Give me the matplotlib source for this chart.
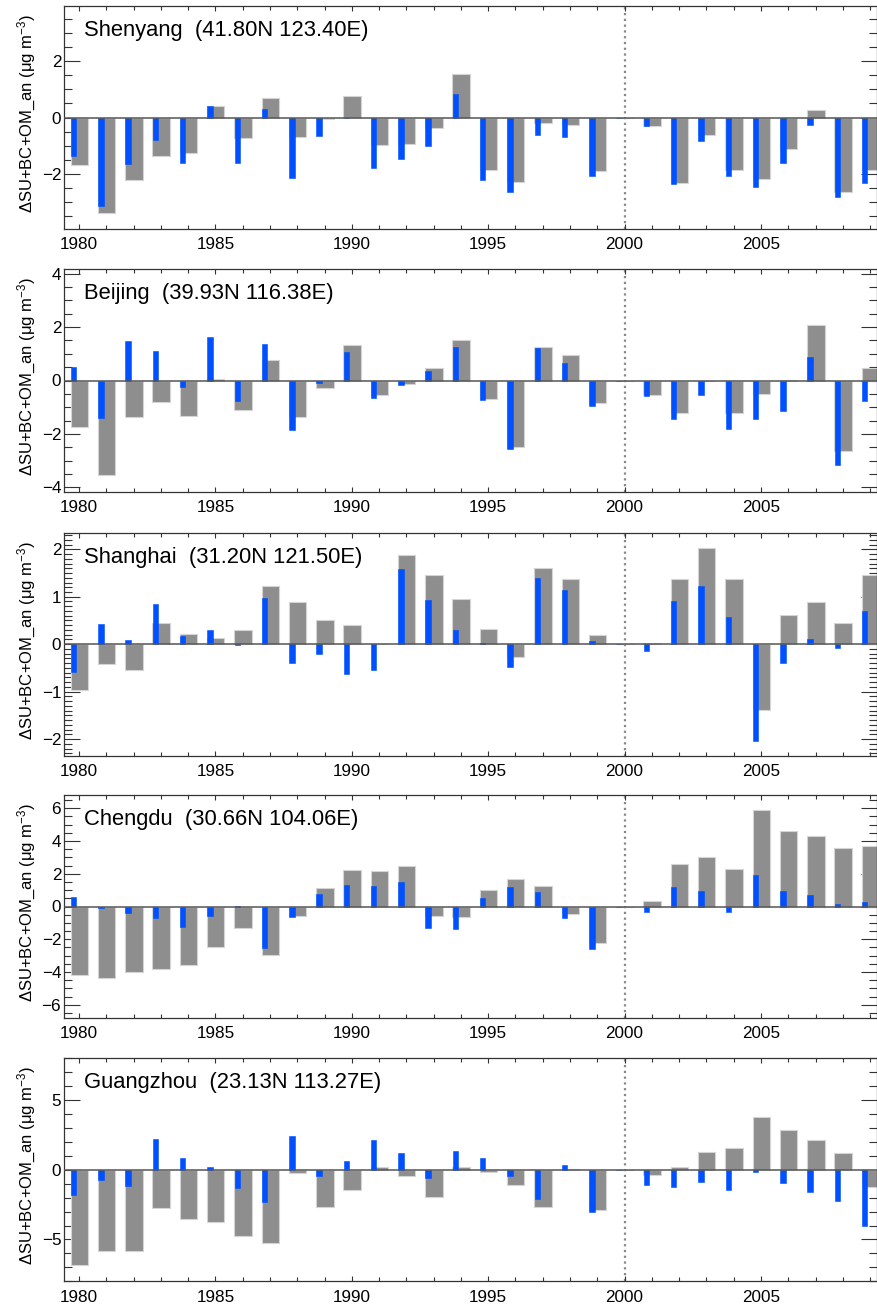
import matplotlib
matplotlib.use("Agg")
import matplotlib.pyplot as plt
import numpy as np
from matplotlib.ticker import MultipleLocator, FixedLocator

plt.rcParams['font.family'] = ['Liberation Sans', 'DejaVu Sans']
plt.rcParams['mathtext.fontset'] = 'custom'
plt.rcParams['mathtext.rm'] = 'Liberation Sans'
plt.rcParams['mathtext.default'] = 'regular'

years = list(range(1980, 2010))

sites = ['Shenyang', 'Beijing', 'Shanghai', 'Chengdu', 'Guangzhou']
coords = ['(41.80N 123.40E)', '(39.93N 116.38E)', '(31.20N 121.50E)',
          '(30.66N 104.06E)', '(23.13N 113.27E)']

# gray (wide) bars
shenyang_gray = [-1.68, -3.40, -2.21, -1.35, -1.25, 0.42, -0.73, 0.71, -0.71, -0.06,
                 0.78, -0.97, -0.93, -0.38, 1.56, -1.85, -2.30, -0.21, -0.25, -1.91,
                 0.0, -0.30, -2.32, -0.62, -1.88, -2.17, -1.12, 0.26, -2.63, -1.86]
beijing_gray = [-1.75, -3.54, -1.35, -0.81, -1.33, 0.07, -1.11, 0.78, -1.38, -0.29,
                1.33, -0.53, -0.12, 0.48, 1.52, -0.70, -2.48, 1.24, 0.96, -0.86,
                0.0, -0.56, -1.22, 0.0, -1.22, -0.51, 0.02, 2.09, -2.63, 0.46]
shanghai_gray = [-0.97, -0.42, -0.55, 0.45, 0.22, 0.13, 0.30, 1.22, 0.88, 0.51,
                 0.41, 0.0, 1.87, 1.45, 0.96, 0.32, -0.26, 1.61, 1.38, 0.20,
                 0.0, 0.03, 1.38, 2.02, 1.38, -1.38, 0.61, 0.88, 0.44, 1.45]
chengdu_gray = [-4.20, -4.39, -4.00, -3.80, -3.57, -2.49, -1.33, -2.98, -0.57, 1.12,
                2.22, 2.18, 2.49, -0.55, -0.65, 1.02, 1.65, 1.24, -0.45, -2.22,
                0.0, 0.31, 2.61, 3.04, 2.31, 5.86, 4.61, 4.33, 3.57, 3.71]
guangzhou_gray = [-6.84, -5.84, -5.84, -2.75, -3.54, -3.76, -4.74, -5.22, -0.24, -2.66,
                  -1.44, 0.19, -0.43, -1.96, 0.22, -0.19, -1.08, -2.66, 0.05, -2.92,
                  0.0, -0.38, 0.22, 1.27, 1.58, 3.78, 2.85, 2.15, 1.20, -1.22]

# blue (narrow) bars
shenyang_blue = [-1.35, -3.16, -1.64, -0.79, -1.60, 0.41, -1.60, 0.31, -2.14, -0.67,
                 0.0, -1.78, -1.49, -1.02, 0.84, -2.21, -2.63, -0.62, -0.69, -2.09,
                 0.0, -0.30, -2.37, -0.84, -2.06, -2.47, -1.62, -0.26, -2.83, -2.33]
beijing_blue = [0.51, -1.40, 1.49, 1.12, -0.26, 1.63, -0.75, 1.37, -1.84, -0.10,
                1.08, -0.65, -0.17, 0.34, 1.25, -0.72, -2.55, 1.23, 0.66, -0.97,
                0.0, -0.58, -1.45, -0.53, -1.80, -1.45, -1.13, 0.89, -3.17, -0.75]
shanghai_blue = [-0.58, 0.43, 0.08, 0.85, 0.18, 0.29, -0.02, 0.97, -0.39, -0.20,
                 -0.62, -0.55, 1.58, 0.93, 0.30, 0.03, -0.48, 1.40, 1.14, 0.07,
                 0.0, -0.15, 0.91, 1.23, 0.57, -2.04, -0.39, 0.12, -0.09, 0.70]
chengdu_blue = [0.59, -0.08, -0.37, -0.71, -1.22, -0.57, 0.04, -2.51, -0.61, 0.76,
                1.31, 1.27, 1.47, -1.29, -1.39, 0.49, 1.16, 0.90, -0.71, -2.59,
                0.0, -0.35, 1.16, 0.94, -0.31, 1.92, 0.94, 0.71, 0.18, 0.29]
guangzhou_blue = [-1.79, -0.72, -1.17, 2.18, 0.86, 0.22, -1.34, -2.30, 2.42, -0.41,
                  0.62, 2.15, 1.20, -0.57, 1.32, 0.84, -0.41, -2.11, 0.38, -3.01,
                  0.0, -1.12, -1.24, -0.86, -1.46, -0.14, -0.93, -1.60, -2.22, -4.02]

grays = [shenyang_gray, beijing_gray, shanghai_gray, chengdu_gray, guangzhou_gray]
blues = [shenyang_blue, beijing_blue, shanghai_blue, chengdu_blue, guangzhou_blue]

ylims = [3.96, 4.18, 2.35, 6.8, 8.0]
major_ticks = [[-2, 0, 2], [-4, -2, 0, 2, 4], [-2, -1, 0, 1, 2],
               [-6, -4, -2, 0, 2, 4, 6], [-5, 0, 5]]
minor_steps = [0.5, 0.5, 0.1, 0.5, 1.0]

W, H = 878, 1304
fig = plt.figure(figsize=(W / 100, H / 100), dpi=100)

tops = [6, 269, 532.7, 795, 1058.3]
ax_h = 223.0
left_px, right_px = 64, 877.5

x = np.array(years)
for i in range(5):
    ax = fig.add_axes([left_px / W, 1 - (tops[i] + ax_h) / H,
                       (right_px - left_px) / W, ax_h / H])
    ax.bar(x - 0.31, grays[i], width=0.64, align='edge', color='#8e8e8e',
           edgecolor='#d4d4d4', linewidth=0.8, zorder=2)
    ax.bar(x - 0.30, blues[i], width=0.20, align='edge', color='#0050ff',
           edgecolor='#0050ff', linewidth=0.4, zorder=3)
    ax.axhline(0, color='#555555', lw=1.1, zorder=4)
    ax.axvline(2000, color='#888888', lw=1.6, ls=(0, (1, 1.6)), zorder=1)

    ax.set_xlim(1979.45, 2009.27)
    ax.set_ylim(-ylims[i], ylims[i])
    ax.xaxis.set_major_locator(MultipleLocator(5))
    ax.xaxis.set_minor_locator(MultipleLocator(1))
    ax.yaxis.set_major_locator(FixedLocator(major_ticks[i]))
    ax.yaxis.set_minor_locator(MultipleLocator(minor_steps[i]))
    ax.tick_params(axis='x', which='major', direction='in', top=True,
                   length=3.5, width=0.8, labelsize=12.3, pad=6, colors='#333333',
                   labelcolor='black')
    ax.tick_params(axis='x', which='minor', direction='in', top=True,
                   length=3.0, width=0.8, colors='#333333')
    ax.tick_params(axis='y', which='major', direction='in', right=True,
                   length=11.5, width=0.8, labelsize=12.3, pad=2, colors='#333333',
                   labelcolor='black')
    ax.tick_params(axis='y', which='minor', direction='in', right=True,
                   length=5.8, width=0.8, colors='#333333')
    for s in ax.spines.values():
        s.set_color('#333333')
        s.set_linewidth(0.9)

    ax.text(0.0246, 0.866, sites[i] + '  ' + coords[i], transform=ax.transAxes,
            fontsize=15.8, ha='left', va='baseline')

    fig.text(27 / W, 1 - (tops[i] + ax_h / 2 - 4) / H,
             'ΔSU+BC+OM_an (μg m$^{-3}$)', rotation=90, fontsize=12,
             ha='center', va='center')

fig.savefig('out.png', dpi=100)
